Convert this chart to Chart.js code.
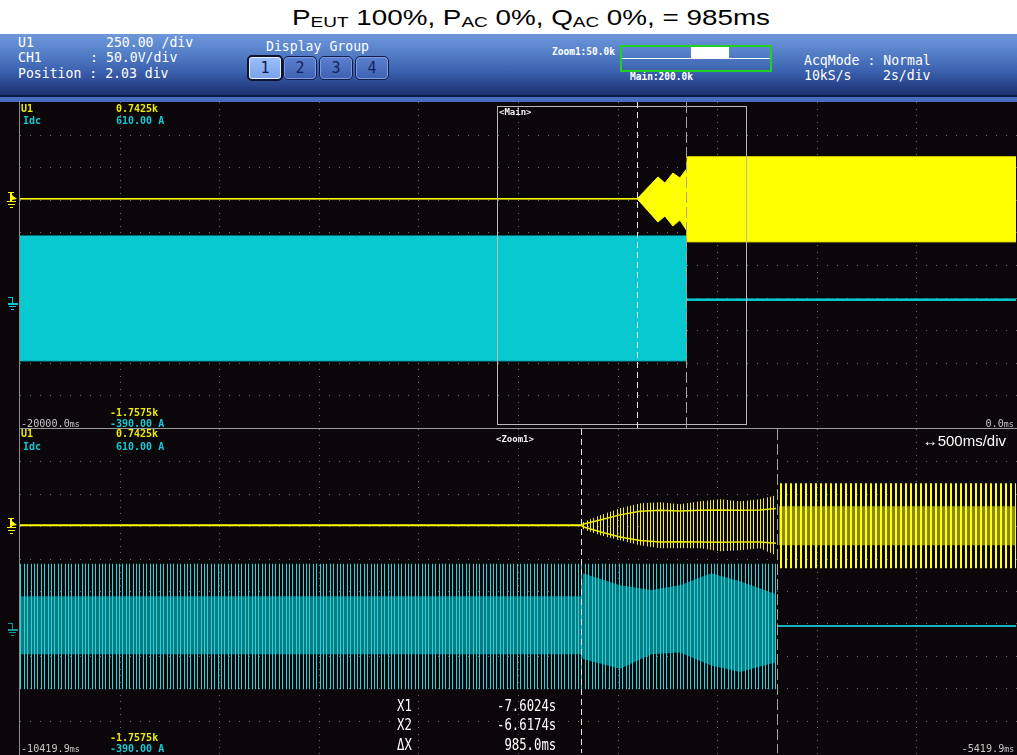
<!DOCTYPE html>
<html><head><meta charset="utf-8">
<script src="https://cdn.jsdelivr.net/npm/chart.js@4.4.1/dist/chart.umd.min.js"></script>
<style>
html,body{margin:0;padding:0;background:#fff;}
#page{position:relative;width:1017px;height:755px;overflow:hidden;background:#fff;}
.abs{position:absolute;white-space:pre;line-height:1;}
#title{position:absolute;left:292px;top:6px;font-family:'Liberation Sans',Arial,sans-serif;font-size:22px;color:#000;white-space:pre;line-height:24px;transform-origin:left;}
#title sub{font-size:15px;vertical-align:baseline;position:relative;top:2px;}
#hdr{position:absolute;left:0;top:34px;width:1017px;height:61px;background:linear-gradient(#6f97dc 0%,#5580c8 30%,#3c62b0 60%,#1c3070 100%);}
#hdrline{position:absolute;left:0;top:95px;width:1017px;height:2px;background:#0d1a45;}
#hdrstrip{position:absolute;left:0;top:97px;width:1017px;height:5px;background:#4a6ebf;}
#scope{position:absolute;left:0;top:102px;width:1017px;height:653px;background:#0b0609;}
canvas{position:absolute;left:0;}
.btn{position:absolute;top:56px;width:32px;height:22px;border-radius:5px;border:1px solid #0f1c48;background:linear-gradient(#5d80cf,#3e60b2);color:#13245e;font-family:'DejaVu Sans Mono',monospace;font-size:15px;text-align:center;line-height:22px;box-shadow:inset 0 0 0 1px #7c9ce0;}
.btn.on{background:linear-gradient(#9cc0fa,#7aa2ea);border:2px solid #0a1430;top:55px;box-shadow:inset 0 0 0 1px #e8f0ff;color:#0c1a50;}
</style></head>
<body><div id="page">
<div id="title">P<sub>EUT</sub> 100%, P<sub>AC</sub> 0%, Q<sub>AC</sub> 0%, = 985ms</div>
<div id="hdr"></div><div id="hdrline"></div><div id="hdrstrip"></div>
<div id="scope"></div>
<canvas id="cTop" width="1017" height="328" style="top:101px"></canvas>
<canvas id="cBot" width="1017" height="326" style="top:429px"></canvas>
<div id="labels"></div>
</div>
<script>
// ===================== DATA =====================
const mainRangeMs = [-20000, 0];            // 2 s/div
const zoomRangeMs = [-10419.9, -5419.9];    // 500 ms/div
const u1Range = [-1757.5, 742.5];           // 250 /div
const idcRange = [-390, 610];               // 100 A/div
const cursorX1 = -7602.4, cursorX2 = -6617.4;

const mainTicksMs = [-20000,-18000,-16000,-14000,-12000,-10000,-8000,-6000,-4000,-2000,0];
const zoomTicksMs = [-10419.9,-9919.9,-9419.9,-8919.9,-8419.9,-7919.9,-7419.9,-6919.9,-6419.9,-5919.9,-5419.9];
const u1Ticks = [-1757.5,-1507.5,-1257.5,-1007.5,-757.5,-507.5,-257.5,-7.5,242.5,492.5,742.5];

// main window, U1 envelope
const mainU1Times = [-20000, -7602.4, -7190, -7050, -6890, -6750, -6617.4, -6600, 0];
const mainU1Upper = [2, 2, 168, 121, 198, 160, 228, 322, 322];
const mainU1Lower = [-2, -2, -178, -132, -209, -163, -240, -330, -330];
// main window, Idc envelope
const mainIdcTimes = [-20000, -6617.4, -6617.3, 0];
const mainIdcUpper = [199, 199, 6, 6];
const mainIdcLower = [-184, -184, 1, 1];

// zoom window, U1
const zoomU1FlatTimes = [-10419.9, -7602.4];
const zoomU1FlatValues = [0, 0];
const zoomTransTimes = [-7602.4, -7594, -7508, -7408, -7307, -7207, -7107, -7006, -6906, -6805, -6705, -6625];
const zoomU1TransUpper = [0, 23, 77, 131, 170, 177, 162, 185, 200, 185, 200, 231];
const zoomU1TransLower = [0, -30, -77, -116, -154, -177, -177, -177, -200, -193, -177, -231];
const zoomU1TransBodyUpper = [0, 8, 40, 80, 108, 115, 110, 115, 118, 115, 118, 130];
const zoomU1TransBodyLower = [0, -12, -50, -90, -118, -130, -128, -130, -132, -130, -130, -140];
const zoomU1AfterTimes = [-6610, -5419.9];
const zoomU1AfterUpper = [324, 324];
const zoomU1AfterLower = [-332, -332];
const zoomU1AfterBodyUpper = [147, 147];
const zoomU1AfterBodyLower = [-154, -154];

// zoom window, Idc
const zoomIdcTimes = [-10419.9, -7602.4, -6617.4];
const zoomIdcUpper = [194, 194, 194];
const zoomIdcLower = [-193, -193, -193];
const zoomIdcBodyTimes = [-10419.9, -7602.4, -7594, -7408, -7250, -7107, -6950, -6805, -6625];
const zoomIdcBodyUpper = [94, 94, 165, 128, 113, 128, 165, 140, 100];
const zoomIdcBodyLower = [-85, -85, -100, -130, -85, -80, -120, -140, -110];
const zoomIdcAfterTimes = [-6617.4, -5419.9];
const zoomIdcAfterValues = [2, 2];

const cursorLabels = ['X1', 'X2', 'ΔX'];
const cursorValues = ['-7.6024s', '-6.6174s', '985.0ms'];

// ===================== RENDER =====================
const YEL = '#ffff00', CYA = '#08c8d0';
const pts = (t, v) => t.map((x, i) => ({x, y: v[i]}));

function stripes(ctx, color, period, positions, w, bg) {
  const c = document.createElement('canvas'); c.width = period; c.height = 4;
  const g = c.getContext('2d');
  if (bg) { g.fillStyle = bg; g.fillRect(0, 0, period, 4); }
  g.fillStyle = color;
  positions.forEach(p => g.fillRect(p, 0, w, 4));
  return ctx.createPattern(c, 'repeat');
}

function scopePlugin(cfg) {
  return {
    id: 'scope_' + cfg.name,
    beforeDatasetsDraw(chart) {
      const {ctx, chartArea: a, scales} = chart;
      const x = scales.x, yU = scales.yU;
      ctx.save();
      ctx.fillStyle = '#6c6c6c';
      cfg.xTicks.forEach(t => {
        const px = Math.round(x.getPixelForValue(t));
        if (px <= a.left + 2 || px >= a.right - 2) return;
        for (let j = 0; j <= 50; j++) ctx.fillRect(px, Math.round(a.top + j * (a.bottom - a.top) / 50), 1, 1);
      });
      cfg.yTicks.forEach(v => {
        const py = Math.round(yU.getPixelForValue(v));
        if (py <= a.top + 2 || py >= a.bottom - 2) return;
        for (let j = 0; j <= 100; j++) ctx.fillRect(Math.round(a.left + j * (a.right - a.left) / 100), py, 1, 1);
      });
      ctx.restore();
    },
    afterDatasetsDraw(chart) {
      const {ctx, chartArea: a, scales} = chart;
      const x = scales.x, yU = scales.yU, yI = scales.yI;
      ctx.save();
      if (cfg.box) {
        const x0 = Math.round(x.getPixelForValue(cfg.box[0])) + 0.5, x1 = Math.round(x.getPixelForValue(cfg.box[1])) + 0.5;
        ctx.strokeStyle = '#b8b8b8'; ctx.lineWidth = 1;
        ctx.strokeRect(x0, a.top + 4.5, x1 - x0, a.bottom - a.top - 8);
      }
      const c1 = Math.round(x.getPixelForValue(cursorX1)) + 0.5, c2 = Math.round(x.getPixelForValue(cursorX2)) + 0.5;
      ctx.lineWidth = 1;
      ctx.strokeStyle = '#e6e6e6'; ctx.setLineDash([6, 4]);
      ctx.beginPath(); ctx.moveTo(c1, a.top); ctx.lineTo(c1, a.bottom); ctx.stroke();
      ctx.strokeStyle = '#a4a4a4'; ctx.setLineDash([11, 4]);
      ctx.beginPath(); ctx.moveTo(c2, a.top); ctx.lineTo(c2, a.bottom); ctx.stroke();
      ctx.setLineDash([]);
      ctx.strokeStyle = '#8c8c8c';
      ctx.beginPath(); ctx.moveTo(a.left - 0.5, 0); ctx.lineTo(a.left - 0.5, chart.height); ctx.stroke();
      if (cfg.bottomLine) {
        ctx.strokeStyle = '#9a9a9a'; ctx.lineWidth = 2;
        ctx.beginPath(); ctx.moveTo(a.left - 1, a.bottom + 1); ctx.lineTo(a.right + 1, a.bottom + 1); ctx.stroke();
      }
      const gy = Math.round(yU.getPixelForValue(0));
      ctx.fillStyle = YEL; ctx.lineWidth = 1;
      ctx.fillRect(8, gy - 7, 6, 1); ctx.fillRect(10, gy - 7, 2, 9);
      ctx.beginPath(); ctx.moveTo(12, gy - 4); ctx.lineTo(17, gy); ctx.lineTo(12, gy + 1); ctx.closePath(); ctx.fill();
      ctx.fillRect(7, gy + 2, 9, 1); ctx.fillRect(8, gy + 5, 7, 1); ctx.fillRect(10, gy + 8, 3, 1);
      const iy = Math.round(yI.getPixelForValue(0));
      ctx.fillStyle = cfg.idcMarker;
      ctx.fillRect(8, iy - 4, 5, 1); ctx.fillRect(12, iy - 4, 1, 6);
      ctx.fillRect(8, iy + 2, 10, 2); ctx.fillRect(9, iy + 5, 7, 1); ctx.fillRect(11, iy + 8, 3, 1);
      ctx.restore();
    }
  };
}

function baseOptions(range) {
  return {
    responsive: false, animation: false, events: [],
    layout: {padding: {left: 20, right: 1, top: 1, bottom: 1}},
    elements: {point: {radius: 0}, line: {tension: 0}},
    plugins: {legend: {display: false}, tooltip: {enabled: false}},
    scales: {
      x: {type: 'linear', min: range[0], max: range[1], display: false},
      yU: {type: 'linear', min: u1Range[0], max: u1Range[1], display: false},
      yI: {type: 'linear', min: idcRange[0], max: idcRange[1], display: false}
    }
  };
}

const cTop = document.getElementById('cTop');
new Chart(cTop, {
  type: 'line',
  data: {datasets: [
    {data: pts(mainU1Times, mainU1Upper), yAxisID: 'yU', borderColor: YEL, borderWidth: 1, backgroundColor: YEL, fill: '+1'},
    {data: pts(mainU1Times, mainU1Lower), yAxisID: 'yU', borderColor: YEL, borderWidth: 1, fill: false},
    {data: pts(mainIdcTimes, mainIdcUpper), yAxisID: 'yI', borderColor: CYA, borderWidth: 1, backgroundColor: CYA, fill: '+1'},
    {data: pts(mainIdcTimes, mainIdcLower), yAxisID: 'yI', borderColor: CYA, borderWidth: 1, fill: false}
  ]},
  options: baseOptions(mainRangeMs),
  plugins: [scopePlugin({name: 'top', xTicks: mainTicksMs, yTicks: u1Ticks, box: zoomRangeMs, bottomLine: true, idcMarker: CYA})]
});

const cBot = document.getElementById('cBot');
const bctx = cBot.getContext('2d');
const stripeC = stripes(bctx, '#22d4dc', 17, [0, 3, 7, 10, 14], 1);
const stripeY1 = stripes(bctx, '#f4f400', 10, [0, 3, 7], 1);
const stripeY2 = stripes(bctx, '#ffff10', 5, [0], 2);
const botOpts = baseOptions(zoomRangeMs);
botOpts.layout.padding = {left: 20, right: 1, top: 0, bottom: 2};
new Chart(cBot, {
  type: 'line',
  data: {datasets: [
    {data: pts(zoomU1FlatTimes, zoomU1FlatValues), yAxisID: 'yU', borderColor: YEL, borderWidth: 2, fill: false, order: 1},
    {data: pts(zoomTransTimes, zoomU1TransUpper), yAxisID: 'yU', borderWidth: 0, backgroundColor: stripeY1, fill: '+1', order: 2},
    {data: pts(zoomTransTimes, zoomU1TransLower), yAxisID: 'yU', borderWidth: 0, fill: false, order: 2},
    {data: pts(zoomU1AfterTimes, zoomU1AfterUpper), yAxisID: 'yU', borderWidth: 0, backgroundColor: stripeY2, fill: '+1', order: 2},
    {data: pts(zoomU1AfterTimes, zoomU1AfterLower), yAxisID: 'yU', borderWidth: 0, fill: false, order: 2},
    {data: pts(zoomU1AfterTimes, zoomU1AfterBodyUpper), yAxisID: 'yU', borderWidth: 0, backgroundColor: '#8a8a00', fill: '+1', order: 3},
    {data: pts(zoomU1AfterTimes, zoomU1AfterBodyLower), yAxisID: 'yU', borderWidth: 0, fill: false, order: 3},
    {data: pts(zoomTransTimes, zoomU1TransBodyUpper), yAxisID: 'yU', borderColor: '#e8e800', borderWidth: 1.5, fill: false, order: 1},
    {data: pts(zoomTransTimes, zoomU1TransBodyLower), yAxisID: 'yU', borderColor: '#e8e800', borderWidth: 1.5, fill: false, order: 1},
    {data: pts(zoomIdcTimes, zoomIdcUpper), yAxisID: 'yI', borderWidth: 0, backgroundColor: stripeC, fill: '+1', order: 2},
    {data: pts(zoomIdcTimes, zoomIdcLower), yAxisID: 'yI', borderWidth: 0, fill: false, order: 2},
    {data: pts(zoomIdcBodyTimes, zoomIdcBodyUpper), yAxisID: 'yI', borderWidth: 0, backgroundColor: '#0a7c84', fill: '+1', order: 3},
    {data: pts(zoomIdcBodyTimes, zoomIdcBodyLower), yAxisID: 'yI', borderWidth: 0, fill: false, order: 3},
    {data: pts(zoomIdcAfterTimes, zoomIdcAfterValues), yAxisID: 'yI', borderColor: '#18b4bc', borderWidth: 2, fill: false, order: 1}
  ]},
  options: botOpts,
  plugins: [scopePlugin({name: 'bot', xTicks: zoomTicksMs, yTicks: u1Ticks, box: null, bottomLine: false, idcMarker: '#16949c'})]
});

const L = document.getElementById('labels');
function label(html, x, base, o) {
  const fs = o.fs, d = document.createElement('div');
  d.className = 'abs'; d.innerHTML = html;
  d.style.fontFamily = o.ff || "'DejaVu Sans Mono',monospace";
  d.style.fontSize = fs + 'px'; d.style.color = o.c || '#fff';
  if (o.bold) d.style.fontWeight = 'bold';
  d.style.top = (base - 0.85 * fs) + 'px';
  const sx = o.sx || 1;
  if (o.right) { d.style.right = (1017 - x) + 'px'; d.style.transformOrigin = 'right'; }
  else { d.style.left = x + 'px'; d.style.transformOrigin = 'left'; }
  d.style.transform = 'scaleX(' + sx + ')';
  L.appendChild(d);
}
const HF = {fs: 14, sx: 0.94, c: '#ffffff'};
label('U1', 18, 47, HF); label('250.00 /div', 106, 47, HF);
label('CH1', 18, 62, HF); label(':', 90, 62, HF); label('50.0V/div', 106, 62, HF);
label('Position : 2.03 div', 18, 78, HF);
label('Display Group', 266, 51, HF);
label('AcqMode : Normal', 804, 65, HF);
label('10kS/s', 804, 80, HF); label('2s/div', 883, 80, HF);
label('Zoom1:50.0k', 552, 55, {fs: 10, bold: true, sx: 0.95});
label('Main:200.0k', 630, 80, {fs: 10, bold: true, sx: 0.95});
['1','2','3','4'].forEach((n, i) => {
  const b = document.createElement('div'); b.className = 'btn' + (i === 0 ? ' on' : '');
  b.style.left = (247 + i * 36) + 'px'; b.textContent = n; L.appendChild(b);
});
(function(){
  const g = document.createElement('div');
  g.style.cssText = 'position:absolute;left:620px;top:45px;width:148px;height:23px;border:2px solid #22d022;';
  g.innerHTML = '<div style="position:absolute;left:0;top:11px;width:148px;height:1px;background:#fff"></div>' +
    '<div style="position:absolute;left:69px;top:0;width:38px;height:11px;background:#fff"></div>';
  L.appendChild(g);
})();
const LY = {fs: 10, bold: true, c: '#ecec00'}, LC = {fs: 10, bold: true, c: '#16c8d0'}, LG = {fs: 11, c: '#c8c8c8', sx: 0.92};
label('U1', 21, 112, LY); label('0.7425k', 116, 112, LY);
label('Idc', 23, 124, LC); label('610.00 A', 116, 124, LC);
label('-1.7575k', 110, 416, LY); label('-390.00 A', 110, 427, LC);
label('-20000.0<span style="font-size:9px">ms</span>', 21, 427, LG);
label('0.0<span style="font-size:9px">ms</span>', 1014, 427, Object.assign({right: true}, LG));
label('&lt;Main&gt;', 499, 116, {fs: 9, bold: true, c: '#f0f0f0'});
label('U1', 21, 437, LY); label('0.7425k', 116, 437, LY);
label('Idc', 23, 450, LC); label('610.00 A', 116, 450, LC);
label('-1.7575k', 110, 741, LY); label('-390.00 A', 110, 752, LC);
label('-10419.9<span style="font-size:9px">ms</span>', 21, 752, LG);
label('-5419.9<span style="font-size:9px">ms</span>', 1014, 752, Object.assign({right: true}, LG));
label('&lt;Zoom1&gt;', 496, 443, {fs: 9, bold: true, c: '#f0f0f0'});
label('↔500ms/div', 1006, 446, {fs: 15, ff: "'Liberation Sans',Arial,sans-serif", right: true, c: '#ffffff'});
const rb = [712, 731, 751];
cursorLabels.forEach((t, i) => {
  label(t, 397, rb[i], {fs: 15, sx: 0.82, c: '#ffffff'});
  label(cursorValues[i], 556, rb[i], {fs: 15, sx: 0.82, c: '#ffffff', right: true});
});
const T = document.getElementById('title');
T.style.transform = 'scaleX(' + (478 / T.getBoundingClientRect().width) + ')';
</script>
</body></html>
